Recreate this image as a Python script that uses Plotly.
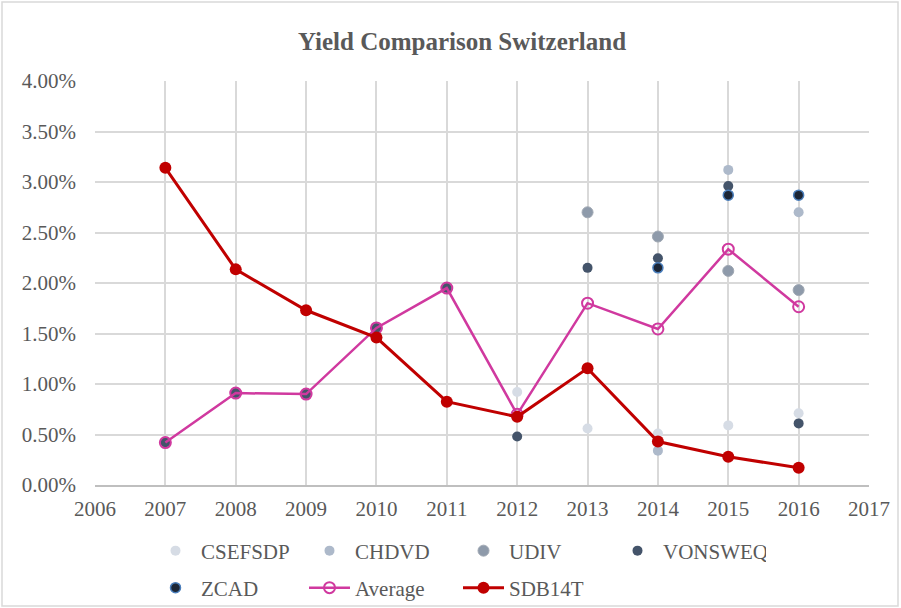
import plotly.graph_objects as go

# ---- data (yields in percent) ----
years_all = [2007, 2008, 2009, 2010, 2011, 2012, 2013, 2014, 2015, 2016]

csefsdp_years = [2012, 2013, 2014, 2015, 2016]
csefsdp_vals = [0.92, 0.56, 0.51, 0.59, 0.71]

chdvd_years = [2014, 2015, 2016]
chdvd_vals = [0.34, 3.12, 2.70]

udiv_years = [2013, 2014, 2015, 2016]
udiv_vals = [2.70, 2.46, 2.12, 1.93]

vonsweq_years = years_all
vonsweq_vals = [0.42, 0.91, 0.90, 1.555, 1.95, 0.48, 2.15, 2.245, 2.96, 0.61]

zcad_years = [2014, 2015, 2016]
zcad_vals = [2.15, 2.87, 2.87]

average_vals = [0.42, 0.91, 0.90, 1.555, 1.95, 0.70, 1.80, 1.545, 2.335, 1.765]
sdb14t_vals = [3.14, 2.135, 1.73, 1.46, 0.825, 0.675, 1.155, 0.43, 0.28, 0.17]

y_tick_vals = [0, 0.5, 1.0, 1.5, 2.0, 2.5, 3.0, 3.5, 4.0]
x_tick_vals = list(range(2006, 2018))


def pct(vals):
    return [v / 100 for v in vals]


FONT = "Liberation Serif, Times New Roman, DejaVu Serif, serif"
TXT = "#595959"

fig = go.Figure()

fig.add_trace(go.Scatter(x=csefsdp_years, y=pct(csefsdp_vals), name="CSEFSDP", mode="markers",
                         marker=dict(size=10, color="#d6dce5"), legend="legend"))
fig.add_trace(go.Scatter(x=chdvd_years, y=pct(chdvd_vals), name="CHDVD", mode="markers",
                         marker=dict(size=10, color="#adb9ca"), legend="legend"))
fig.add_trace(go.Scatter(x=udiv_years, y=pct(udiv_vals), name="UDIV", mode="markers",
                         marker=dict(size=11, color="#8e9aaa", line=dict(color="#a0a8b3", width=1)),
                         legend="legend"))
fig.add_trace(go.Scatter(x=vonsweq_years, y=pct(vonsweq_vals), name="VONSWEQ", mode="markers",
                         marker=dict(size=10, color="#44546a"), legend="legend"))
fig.add_trace(go.Scatter(x=zcad_years, y=pct(zcad_vals), name="ZCAD", mode="markers",
                         marker=dict(size=10, color="#1c2636", line=dict(color="#4a7ebb", width=1.5)),
                         legend="legend2"))
fig.add_trace(go.Scatter(x=years_all, y=pct(average_vals), name="Average", mode="lines+markers",
                         line=dict(color="#d0399f", width=2.5),
                         marker=dict(symbol="circle-open", size=11, color="#d0399f", line=dict(width=2)),
                         legend="legend2"))
fig.add_trace(go.Scatter(x=years_all, y=pct(sdb14t_vals), name="SDB14T", mode="lines+markers",
                         line=dict(color="#c00000", width=3),
                         marker=dict(size=12, color="#c00000"),
                         legend="legend2"))

W, H = 901, 608
ML, MR, MT, MB = 95, 32, 81, 123
pw, ph = W - ML - MR, H - MT - MB


def px_x(p):
    return (p - ML) / pw


def px_y(p):
    return (H - MB - p) / ph


legend_common = dict(orientation="h", xanchor="left", yanchor="middle",
                     entrywidth=98, entrywidthmode="pixels", itemwidth=41,
                     font=dict(family=FONT, size=21, color=TXT), bgcolor="rgba(0,0,0,0)")

fig.update_layout(
    width=W, height=H,
    margin=dict(l=ML, r=MR, t=MT, b=MB, autoexpand=False),
    paper_bgcolor="white", plot_bgcolor="white",
    font=dict(family=FONT, color=TXT, size=21),
    title=dict(text="<b>Yield Comparison Switzerland</b>", x=px_x(462), xanchor="center",
               xref="paper", y=1 - 41 / H, yanchor="middle",
               font=dict(family=FONT, size=25, color=TXT)),
    xaxis=dict(range=[2006, 2017], tickvals=x_tick_vals, ticktext=[str(v) for v in x_tick_vals],
               showgrid=True, gridcolor="#d9d9d9", gridwidth=1.5,
               showline=True, linecolor="#bfbfbf", linewidth=1.5,
               zeroline=False, ticks="", ticklabelstandoff=4,
               tickfont=dict(family=FONT, size=21, color=TXT)),
    yaxis=dict(range=[0, 0.04], tickvals=pct(y_tick_vals), tickformat=".2%",
               showgrid=True, gridcolor="#d9d9d9", gridwidth=1.5,
               zeroline=False, showline=False, ticks="", ticklabelstandoff=18,
               tickfont=dict(family=FONT, size=21, color=TXT)),
    legend=dict(x=px_x(150), y=px_y(551), **legend_common),
    legend2=dict(x=px_x(150), y=px_y(588), **legend_common),
    shapes=[dict(type="rect", xref="paper", yref="paper",
                 x0=px_x(2), x1=px_x(898), y0=px_y(606), y1=px_y(2),
                 line=dict(color="#d9d9d9", width=1.5), fillcolor="rgba(0,0,0,0)", layer="below")],
)

fig.write_html("out.html", config={"displayModeBar": False},
               post_script="document.body.style.margin='0px';")
